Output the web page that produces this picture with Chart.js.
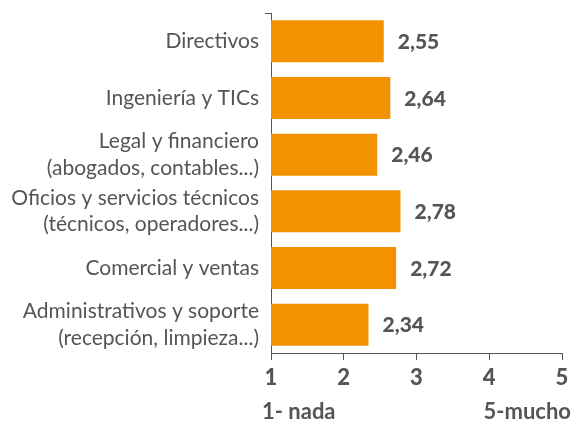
<!DOCTYPE html>
<html>
<head>
<meta charset="utf-8">
<script src="https://cdn.jsdelivr.net/npm/chart.js@4"></script>
<style>
  body { margin: 0; background: #fff; }
  #wrap { width: 572px; height: 427px; }
</style>
</head>
<body>
<div id="wrap"><canvas id="myChart"></canvas></div>
<script>
// Data

const labels = [
  ["Directivos"],
  ["Ingeniería y TICs"],
  ["Legal y financiero", "(abogados, contables...)"],
  ["Oficios y servicios técnicos", "(técnicos, operadores...)"],
  ["Comercial y ventas"],
  ["Administrativos y soporte", "(recepción, limpieza...)"],
];
const values = [2.55, 2.64, 2.46, 2.78, 2.72, 2.34];
const tickLabels = ["1", "2", "3", "4", "5"];
const scaleNotes = ["1- nada", "5-mucho"];

const grey = "#555555";
const orange = "#F39200";
const font = "Lato";

// value labels next to each bar + notes under the axis
const extras = {
  id: "extras",
  afterDatasetsDraw(chart) {
    const ctx = chart.ctx;
    const meta = chart.getDatasetMeta(0);
    ctx.save();
    ctx.fillStyle = grey;
    ctx.font = "900 21px " + font;
    ctx.textBaseline = "middle";
    ctx.textAlign = "left";
    meta.data.forEach(function (bar, i) {
      ctx.fillText(values[i].toFixed(2).replace(".", ","), bar.x + 14, bar.y + 1);
    });

    const area = chart.chartArea;
    ctx.font = "bold 22px " + font;
    ctx.textAlign = "left";
    ctx.fillText(scaleNotes[0], 262, 412);
    ctx.textAlign = "right";
    ctx.fillText(scaleNotes[1], 571, 412);

    // small tick at top of the y axis
    ctx.strokeStyle = grey;
    ctx.lineWidth = 1;
    ctx.beginPath();
    ctx.moveTo(area.left - 6, area.top + 0.5);
    ctx.lineTo(area.left, area.top + 0.5);
    ctx.stroke();
    ctx.restore();
  },
};

const chart = new Chart(document.getElementById("myChart"), {
  type: "bar",
  data: {
    labels: labels,
    datasets: [
      {
        data: values,
        backgroundColor: orange,
        barPercentage: 0.74,
        categoryPercentage: 1.0,
      },
    ],
  },
  options: {
    indexAxis: "y",
    responsive: true,
    maintainAspectRatio: false,
    animation: false,
    layout: { padding: { top: 13, right: 10, left: 0, bottom: 0 } },
    plugins: {
      legend: { display: false },
      tooltip: { enabled: false },
    },
    scales: {
      x: {
        min: 1,
        max: 5,
        afterFit: function (scale) {
          scale.height = 74;
          scale.paddingLeft = 0;
          scale.paddingRight = 0;
        },
        border: { display: true, color: grey, width: 1 },
        grid: {
          drawOnChartArea: false,
          drawTicks: true,
          tickLength: 7,
          color: grey,
        },
        ticks: {
          stepSize: 1,
          padding: 5,
          color: grey,
          font: { family: font, size: 22, weight: "900" },
          callback: function (v, i) {
            return tickLabels[i];
          },
        },
      },
      y: {
        afterFit: function (scale) {
          scale.width = 271;
          scale.paddingTop = 0;
          scale.paddingBottom = 0;
        },
        border: { display: true, color: grey, width: 1 },
        grid: { display: false, drawTicks: false },
        ticks: {
          autoSkip: false,
          padding: 12,
          color: grey,
          font: { family: font, size: 21, lineHeight: 1.25 },
        },
      },
    },
  },
  plugins: [extras],
});
</script>
</body>
</html>
